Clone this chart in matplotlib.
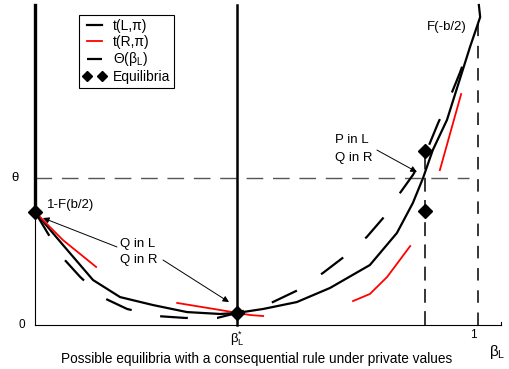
import matplotlib
matplotlib.use("Agg")
import matplotlib.pyplot as plt

plt.rcParams['font.family'] = ['Liberation Sans', 'DejaVu Sans']
plt.rcParams['mathtext.fontset'] = 'custom'
plt.rcParams['mathtext.rm'] = 'Liberation Sans'
plt.rcParams['mathtext.it'] = 'Liberation Sans:italic'
plt.rcParams['lines.scale_dashes'] = False

# t(L, pi): solid black curve
tL_x = [0.0, 0.063, 0.131, 0.192, 0.266, 0.343, 0.418, 0.456, 0.515, 0.591,
        0.666, 0.756, 0.817, 0.853, 0.876, 0.898, 0.930, 0.982, 1.005, 1.002]
tL_y = [0.769, 0.545, 0.306, 0.190, 0.136, 0.088, 0.075, 0.082, 0.109, 0.156,
        0.252, 0.408, 0.626, 0.830, 1.000, 1.190, 1.395, 1.891, 2.095, 2.177]

# Theta(beta_L): long-dashed curve
th_x = [0.0, 0.061, 0.102, 0.151, 0.208, 0.275, 0.339, 0.411, 0.447, 0.537,
        0.594, 0.650, 0.700, 0.749, 0.788, 0.824, 0.853, 0.885, 0.910, 0.937,
        0.959, 0.982]
th_y = [0.769, 0.463, 0.327, 0.190, 0.109, 0.061, 0.048, 0.048, 0.075, 0.156,
        0.238, 0.354, 0.469, 0.599, 0.735, 0.898, 1.020, 1.190, 1.374, 1.551,
        1.714, 1.905]

# t(R, pi): red pieces
tR_pieces = [
    ([0.0, 0.063, 0.138], [0.769, 0.578, 0.395]),
    ([0.321, 0.418, 0.485, 0.515], [0.150, 0.102, 0.068, 0.061]),
    ([0.718, 0.756, 0.795, 0.847], [0.163, 0.211, 0.327, 0.537]),
    ([0.914, 0.962], [1.054, 1.571]),
]

# equilibria
eq_x = [0.0, 0.456, 0.880, 0.880]
eq_y = [0.769, 0.082, 1.184, 0.776]

beta_star = 0.456
beta_hat = 0.880
theta = 1.0
one_minus_F = 0.769
xmax, ymax = 1.052, 2.177

fig = plt.figure(figsize=(5.09, 3.69), dpi=100)
ax = fig.add_axes([35 / 509, 44 / 369, 466 / 509, 320 / 369])
ax.set_xlim(0, xmax)
ax.set_ylim(0, ymax)
for s in ['top', 'right']:
    ax.spines[s].set_visible(False)
ax.spines['left'].set_linewidth(0.8)
ax.spines['bottom'].set_linewidth(0.8)
ax.set_xticks([])
ax.set_yticks([])

# reference lines
ax.plot([0, 0.98], [theta, theta], color='#555555', lw=1.0, dashes=(12, 7))
ax.plot([beta_hat, beta_hat], [0, eq_y[2]], color='black', lw=1.1, dashes=(10, 6))
ax.plot([1, 1], [0, 2.1], color='black', lw=1.1, dashes=(9, 7))
ax.plot([0, 0], [one_minus_F, ymax], color='black', lw=2.4, clip_on=False)
ax.plot([beta_star, beta_star], [0, ymax], color='black', lw=1.8, clip_on=False)
ax.plot([xmax, xmax], [0, 0.02], color='black', lw=0.8, clip_on=False)

# curves
ax.plot(tL_x, tL_y, color='black', lw=1.6, clip_on=False, label='t(L,π)')
for i, (px, py) in enumerate(tR_pieces):
    ax.plot(px, py, color='red', lw=1.3, label='t(R,π)' if i == 0 else None)
ax.plot(th_x, th_y, color='black', lw=1.6, dashes=(20, 21),
        label=r'$\mathrm{Θ(β}_\mathrm{L}\mathrm{)}$')
ax.plot(eq_x, eq_y, linestyle='none', marker='D', color='black', markersize=7,
        clip_on=False, label='Equilibria', zorder=5)

# annotations
fs = 9.5
arrow = dict(arrowstyle='-|>', color='black', lw=0.7, mutation_scale=9, shrinkA=0, shrinkB=0)
ax.annotate('', xy=(0.018, 0.728), xytext=(0.185, 0.531), arrowprops=arrow)
ax.annotate('', xy=(0.438, 0.156), xytext=(0.289, 0.442), arrowprops=arrow)
ax.annotate('', xy=(0.862, 1.041), xytext=(0.772, 1.190), arrowprops=arrow)
ax.text(0.192, 0.551, 'Q in L', fontsize=fs, va='center')
ax.text(0.192, 0.442, 'Q in R', fontsize=fs, va='center')
ax.text(0.677, 1.259, 'P in L', fontsize=fs, va='center')
ax.text(0.677, 1.136, 'Q in R', fontsize=fs, va='center')
ax.text(0.027, 0.816, '1-F(b/2)', fontsize=fs, va='center')
ax.text(0.885, 2.025, 'F(-b/2)', fontsize=fs, va='center')

# axis labels
ax.text(-0.045, theta, 'θ', fontsize=9.5, ha='center', va='center')
ax.text(-0.03, 0, '0', fontsize=8.5, ha='center', va='center')
ax.text(beta_star, -0.03, r'$\mathrm{β}_\mathrm{L}^\mathrm{*}$', fontsize=9.5,
        ha='center', va='top')
ax.text(0.99, -0.025, '1', fontsize=8.5, ha='center', va='top')
ax.text(1.043, -0.12, r'$\mathrm{β}_\mathrm{L}$', fontsize=11, ha='center', va='top',
        clip_on=False)
ax.text(0.50, -0.232, 'Possible equilibria with a consequential rule under private values',
        fontsize=9.8, ha='center', va='center')

leg = ax.legend(loc='upper left', bbox_to_anchor=(0.094, 0.969), fontsize=10,
                numpoints=2, markerscale=0.75, handlelength=1.7, labelspacing=0.12,
                borderpad=0.3, handletextpad=0.45, fancybox=False, framealpha=1,
                edgecolor='black', borderaxespad=0)
leg.get_frame().set_linewidth(0.8)

fig.savefig('out.png', dpi=100)
